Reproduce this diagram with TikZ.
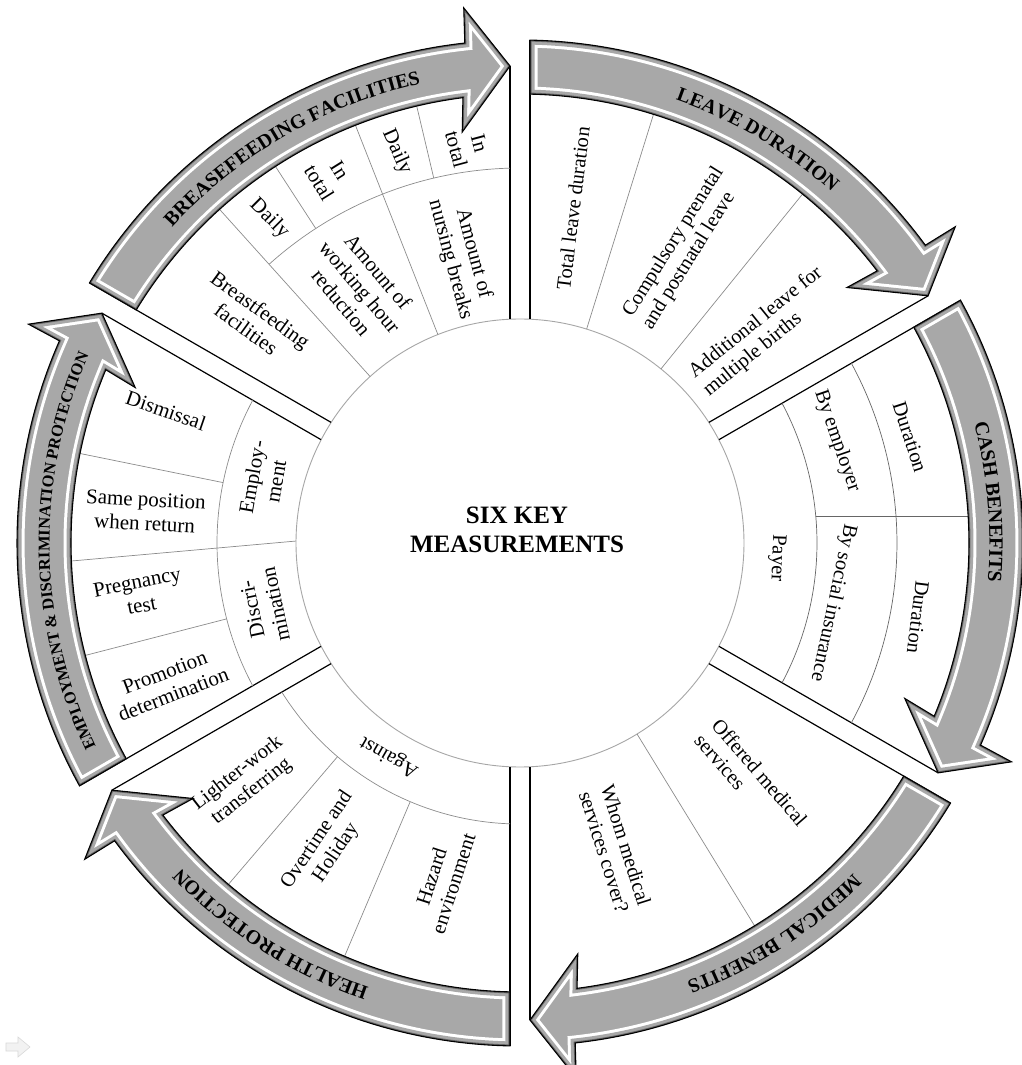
\documentclass[tikz,border=0pt]{standalone}
\usepackage{fontspec}
\setmainfont{Liberation Serif}
\usetikzlibrary{calc,decorations.text}
\definecolor{bandgray}{HTML}{A8A8A8}

% band (arrow) outline: #1 = start angle (tail), #2 = end angle (head side)
\newcommand{\bandpath}[2]{(#1-1.14:503) arc[start angle=#1-1.14, end angle=#2+6.3, radius=503] -- (#2+6:538) -- ($(#2:477)+(#2+90:10)$) -- (#2+8:415) -- (#2+7.3:449) arc[start angle=#2+7.3, end angle=#1-1.28, radius=449] -- cycle}
\newcommand{\bandfontA}{\fontsize{20}{24}\selectfont\bfseries}
\newcommand{\bandfontB}{\fontsize{16.5}{20}\selectfont\bfseries}
% label along a band: #1 centre angle, #2 baseline radius, #3 font, #4 text
\newcommand{\bandlabel}[4]{%
  \path[decorate, decoration={text along path, text align=center, text={|#3|#4}}]
    (#1+50:#2) arc[start angle=#1+50, end angle=#1-50, radius=#2];
}

\tikzset{
  secline/.style={draw=black, line width=1.2},
  cellline/.style={draw=black!45, line width=0.7},
  tnr/.style={font=\fontsize{20.5}{23}\selectfont, align=left, inner sep=0pt},
  tnrc/.style={font=\fontsize{20.5}{23}\selectfont, align=center, inner sep=0pt},
  cam/.style={font=\fontsize{21}{24}\selectfont, align=center, inner sep=0pt},
  titletext/.style={font=\bfseries\fontsize{25}{29}\selectfont, inner sep=0pt, anchor=base},
}

\begin{document}
\begin{tikzpicture}[x=1pt, y=1pt]
\useasboundingbox (-520,-522) rectangle (502,543);
\fill[white] (-520,-522) rectangle (502,543);

% faint icon bottom-left
\draw[gray!30, fill=gray!10, line width=0.6] (-514,-500) -- (-502,-500) -- (-502,-494) -- (-490,-504) -- (-502,-514) -- (-502,-508) -- (-514,-508) -- cycle;

% centre circle
\node[draw=black!35, line width=0.9, circle, minimum size=448pt, inner sep=0pt] (core) at (0,0) {};

% sector edges
\foreach \hi/\lo in {90/30,30/-30,330/270,270/210,210/150,150/90}{
  \draw[secline] ($(\hi:224)+(\hi-90:10)$) -- ($(\hi:503)+(\hi-90:10)$);
  \draw[secline] ($(\lo:224)+(\lo+90:10)$) -- ($(\lo:477)+(\lo+90:10)$);
}

% ---- Leave duration cells
\draw[cellline] (72.7:224) -- (72.7:449);
\draw[cellline] (51:224) -- (51:449);
\node[tnr, rotate=83] (ld1) at (81:339) {Total leave duration};
\node[tnr, rotate=58] (ld2) at (61:337) {Compulsory prenatal\\and postnatal leave};
\node[tnr, rotate=39] (ld3) at (41:322) {Additional leave for\\multiple births};

% ---- Cash benefits cells
\draw[cellline, draw=black!60] (28.07:297) arc[start angle=28.07, end angle=-28.07, radius=297];
\draw[cellline, draw=black!60] (28.48:377) arc[start angle=28.48, end angle=-28.48, radius=377];
\draw[cellline, draw=black!60] (296,27) -- (448,27);
\node[tnrc, rotate=-92] (cb1) at (257,-15) {Payer};
\node[tnrc, rotate=-71] (cb2) at (317,102) {By employer};
\node[tnrc, rotate=-72] (cb3) at (390,106) {Duration};
\node[tnrc, rotate=-102] (cb4) at (313,-60) {By social insurance};
\node[tnrc, rotate=-97] (cb5) at (398,-74) {Duration};

% ---- Medical benefits cells
\draw[cellline] (301.5:224) -- (301.5:449);
\node[tnr, rotate=-49] (mb1) at (-45.7:331) {Offered medical\\services};
\node[tnr, rotate=-72.5] (mb2) at (-72.7:320) {Whom medical\\services cover?};

% ---- Health protection cells
\draw[cellline] (268:281) arc[start angle=268, end angle=212, radius=281];
\draw[cellline] (229.5:281) -- (229.5:449);
\draw[cellline] (247:281) -- (247:449);
\node[tnrc, rotate=150] (hp0) at (238.5:250) {Against};
\node[tnrc, rotate=38] (hp1) at (221:365) {Lighter-work\\transferring};
\node[tnrc, rotate=56] (hp2) at (237.5:360) {Overtime and\\Holiday};
\node[tnrc, rotate=72] (hp3) at (257:346) {Hazard\\environment};

% ---- Employment & discrimination cells
\draw[cellline] (208.11:303) arc[start angle=208.11, end angle=151.89, radius=303];
\draw[cellline] (179.5:224) -- (182.3:449);
\draw[cellline] (168.5:303) -- (168.5:449);
\draw[cellline] (194.5:303) -- (194.5:449);
\node[cam, rotate=80] (ed0) at (166:264) {Employ-\\ment};
\node[cam, rotate=102] (ed00) at (194:264) {Discri-\\mination};
\node[cam, rotate=-19] (ed1) at (159.5:378) {Dismissal};
\node[cam, rotate=-3] (ed2) at (175.2:376) {Same position\\when return};
\node[cam, rotate=11] (ed3) at (187.6:384) {Pregnancy\\test};
\node[cam, rotate=21] (ed4) at (201.8:378) {Promotion\\determination};

% ---- Breastfeeding cells
\draw[cellline] (132:224) -- (132:449);
\draw[cellline] (111.5:224) -- (111.5:449);
\draw[cellline] (132:375) arc[start angle=132, end angle=91.53, radius=375];
\draw[cellline] (123:375) -- (123:449);
\draw[cellline] (103.3:375) -- (103.3:449);
\node[cam, rotate=-36] (bf1) at (140:348) {Breastfeeding\\facilities};
\node[cam, rotate=-50] (bf2) at (122:302) {Amount of\\working hour\\reduction};
\node[cam, rotate=-75] (bf3) at (101.5:292) {Amount of\\nursing breaks};
\node[cam, rotate=-45] (bf4) at (127.7:410) {Daily};
\node[cam, rotate=-58] (bf5) at (117.5:413) {In\\total};
\node[cam, rotate=-66] (bf6) at (107.5:410) {Daily};
\node[cam, rotate=-75] (bf7) at (97.5:400) {In\\total};

% ---- arrow bands
\foreach \hi/\lo in {90/30,30/-30,330/270,270/210,210/150,150/90}{
  \begin{scope}
    \clip \bandpath{\hi}{\lo};
    \fill[bandgray] \bandpath{\hi}{\lo};
    \draw[white, line width=15] \bandpath{\hi}{\lo};
    \draw[bandgray, line width=9] \bandpath{\hi}{\lo};
    \draw[black!60, line width=3] \bandpath{\hi}{\lo};
  \end{scope}
  \draw[black, line width=1.1, line join=miter] \bandpath{\hi}{\lo};
}

% ---- band labels
\bandlabel{59.5}{469.5}{\bandfontA}{LEAVE DURATION}
\bandlabel{5}{469.5}{\bandfontA}{CASH BENEFITS}
\bandlabel{303}{469.5}{\bandfontA}{MEDICAL BENEFITS}
\bandlabel{237.5}{469.5}{\bandfontA}{HEALTH PROTECTION}
\bandlabel{181}{470.5}{\bandfontB}{EMPLOYMENT {\&} DISCRIMINATION PROTECTION}
\bandlabel{120}{469.5}{\bandfontA}{BREASEFEEDING FACILITIES}

% ---- title
\node[titletext] (ttl1) at (-3,19) {SIX KEY};
\node[titletext] (ttl2) at (-3,-10) {MEASUREMENTS};
\end{tikzpicture}
\end{document}
